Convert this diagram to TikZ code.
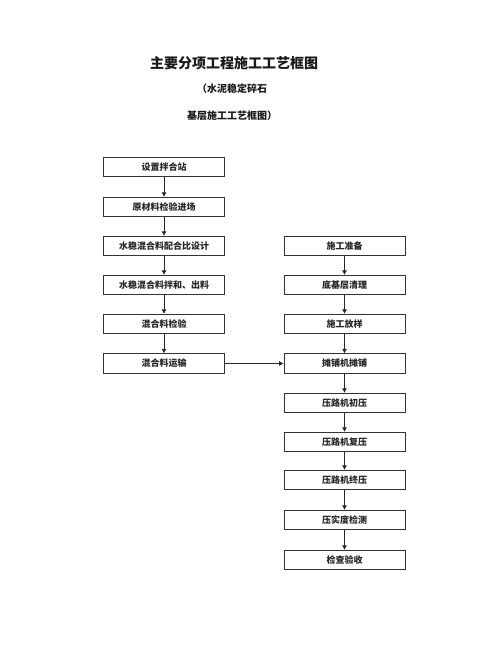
\documentclass[tikz,border=0pt]{standalone}
\usepackage{fontspec}
\newfontfamily\cjk{Noto Sans CJK SC}
\usetikzlibrary{arrows.meta}
\begin{document}
\begin{tikzpicture}[x=1pt,y=-1pt,
  stepbox/.style={draw=black!80,line width=0.7pt,minimum width=121pt,minimum height=19.5pt,inner sep=0pt,font=\cjk\bfseries\fontsize{9}{10}\selectfont,text=black!85},
  conn/.style={draw=black!85,line width=0.7pt,-{Latex[length=4.5pt,width=5pt]}},
  ttl/.style={font=\cjk\bfseries,text=black!90,inner sep=0pt}]
\useasboundingbox (0,0) rectangle (480,648);
\node[ttl,font=\cjk\bfseries\fontsize{14}{16}\selectfont] (t1) at (234,63) {主要分项工程施工工艺框图};
\node[ttl,font=\cjk\bfseries\fontsize{10}{12}\selectfont] (t2) at (232,89) {（水泥稳定碎石};
\node[ttl,font=\cjk\bfseries\fontsize{10}{12}\selectfont] (t3) at (232,116) {基层施工工艺框图）};
% left column
\node[stepbox] (l1) at (164,167) {设置拌合站};
\node[stepbox] (l2) at (164,207) {原材料检验进场};
\node[stepbox] (l3) at (164,246) {水稳混合料配合比设计};
\node[stepbox] (l4) at (164,285) {水稳混合料拌和、出料};
\node[stepbox] (l5) at (164,324) {混合料检验};
\node[stepbox] (l6) at (164,363.5) {混合料运输};
% right column
\node[stepbox] (r1) at (344.5,246) {施工准备};
\node[stepbox] (r2) at (344.5,285) {底基层清理};
\node[stepbox] (r3) at (344.5,324) {施工放样};
\node[stepbox] (r4) at (344.5,363.5) {摊铺机摊铺};
\node[stepbox] (r5) at (344.5,403) {压路机初压};
\node[stepbox] (r6) at (344.5,442) {压路机复压};
\node[stepbox] (r7) at (344.5,480) {压路机终压};
\node[stepbox] (r8) at (344.5,520) {压实度检测};
\node[stepbox] (r9) at (344.5,560) {检查验收};
% connectors
\foreach \a/\b in {l1/l2,l2/l3,l3/l4,l4/l5,l5/l6,r1/r2,r2/r3,r3/r4,r4/r5,r5/r6,r6/r7,r7/r8,r8/r9}
  \draw[conn] (\a.south) -- (\b.north);
\draw[conn] (l6.east) -- (r4.west);
\end{tikzpicture}
\end{document}
